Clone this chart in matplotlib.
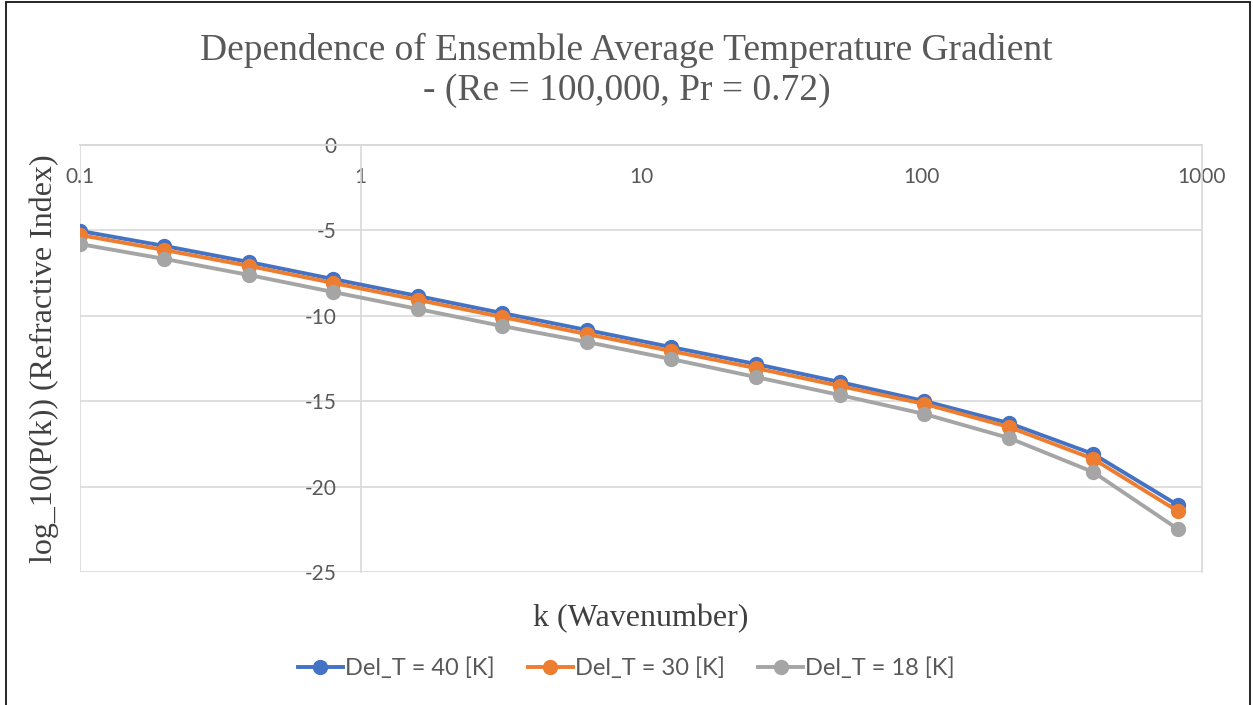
import matplotlib
matplotlib.use("Agg")
import matplotlib.pyplot as plt
from matplotlib.patches import Rectangle
from matplotlib.ticker import FixedLocator, FixedFormatter, NullLocator

k = [0.1, 0.2, 0.4, 0.8, 1.6, 3.2, 6.4, 12.8, 25.6, 51.2, 102.4, 204.8, 409.6, 819.2]
dt40 = [-5.03, -5.91, -6.85, -7.85, -8.84, -9.84, -10.83, -11.83, -12.82, -13.88, -14.99, -16.28, -18.09, -21.08]
dt30 = [-5.27, -6.15, -7.08, -8.08, -9.07, -10.07, -11.07, -12.06, -13.06, -14.11, -15.16, -16.51, -18.38, -21.43]
dt18 = [-5.80, -6.67, -7.61, -8.61, -9.60, -10.60, -11.53, -12.53, -13.58, -14.64, -15.75, -17.15, -19.15, -22.48]
labels = ["Del_T = 40 [K]", "Del_T = 30 [K]", "Del_T = 18 [K]"]
colors = ["#4472C4", "#ED7D31", "#A5A5A5"]
xticks = [0.1, 1, 10, 100, 1000]
xticklabels = ["0.1", "1", "10", "100", "1000"]
yticks = [0, -5, -10, -15, -20, -25]

fig = plt.figure(figsize=(12.53, 7.05), dpi=100)
ax = fig.add_axes([80/1253, 1-572/705, (1202-80)/1253, (572-145)/705])

for ys, lab, c in zip([dt40, dt30, dt18], labels, colors):
    ax.plot(k, ys, color=c, lw=2.8, marker='o', ms=10, label=lab, zorder=3)

ax.set_xscale('log')
ax.set_xlim(0.1, 1000)
ax.set_ylim(-25, 0)
ax.xaxis.set_major_locator(FixedLocator(xticks))
ax.xaxis.set_major_formatter(FixedFormatter(xticklabels))
ax.xaxis.set_minor_locator(NullLocator())
ax.set_yticks(yticks)
ax.set_yticklabels([str(v) for v in yticks])

grid_c = "#D9D9D9"
ax.grid(axis='y', color=grid_c, lw=1.2, zorder=0)
ax.spines['bottom'].set_position(('data', 0))
ax.spines['left'].set_position(('data', 1))
for s in ['bottom', 'left', 'right', 'top']:
    ax.spines[s].set_color(grid_c)
    ax.spines[s].set_linewidth(1.2)
ax.axvline(ax.get_xlim()[0], color=grid_c, lw=1.2, zorder=0)
ax.tick_params(axis='both', length=0, labelsize=15, labelcolor='#595959')
ax.tick_params(axis='x', pad=16)
ax.tick_params(axis='y', pad=17)
for t in ax.get_xticklabels() + ax.get_yticklabels():
    t.set_fontfamily('Lato')

ax.set_xlabel("k (Wavenumber)", family='Liberation Serif', fontsize=23, color='#404040')
ax.xaxis.set_label_coords(0.5, -0.075)
ax.set_ylabel("log_10(P(k)) (Refractive Index)", family='Liberation Serif', fontsize=23, color='#404040')
ax.yaxis.set_label_coords(-0.019, 0.5)

fig.text(0.5, 1-70/705, "Dependence of Ensemble Average Temperature Gradient\n- (Re = 100,000, Pr = 0.72)",
         ha='center', va='center', family='Liberation Serif', fontsize=27, color='#595959', linespacing=1.2)

leg = ax.legend(loc='center', bbox_to_anchor=(0.5, 1-668/705), bbox_transform=fig.transFigure,
                ncol=3, frameon=False, prop={'family': 'Lato', 'size': 17}, handlelength=1.9,
                columnspacing=1.4, handletextpad=0.1)
for t in leg.get_texts():
    t.set_color('#595959')

fig.patches.append(Rectangle((6/1253, -0.05), (1250-6)/1253, 1.05 - 2/705, transform=fig.transFigure,
                             fill=False, edgecolor='black', lw=1.2))

fig.savefig("out.png", dpi=100)
